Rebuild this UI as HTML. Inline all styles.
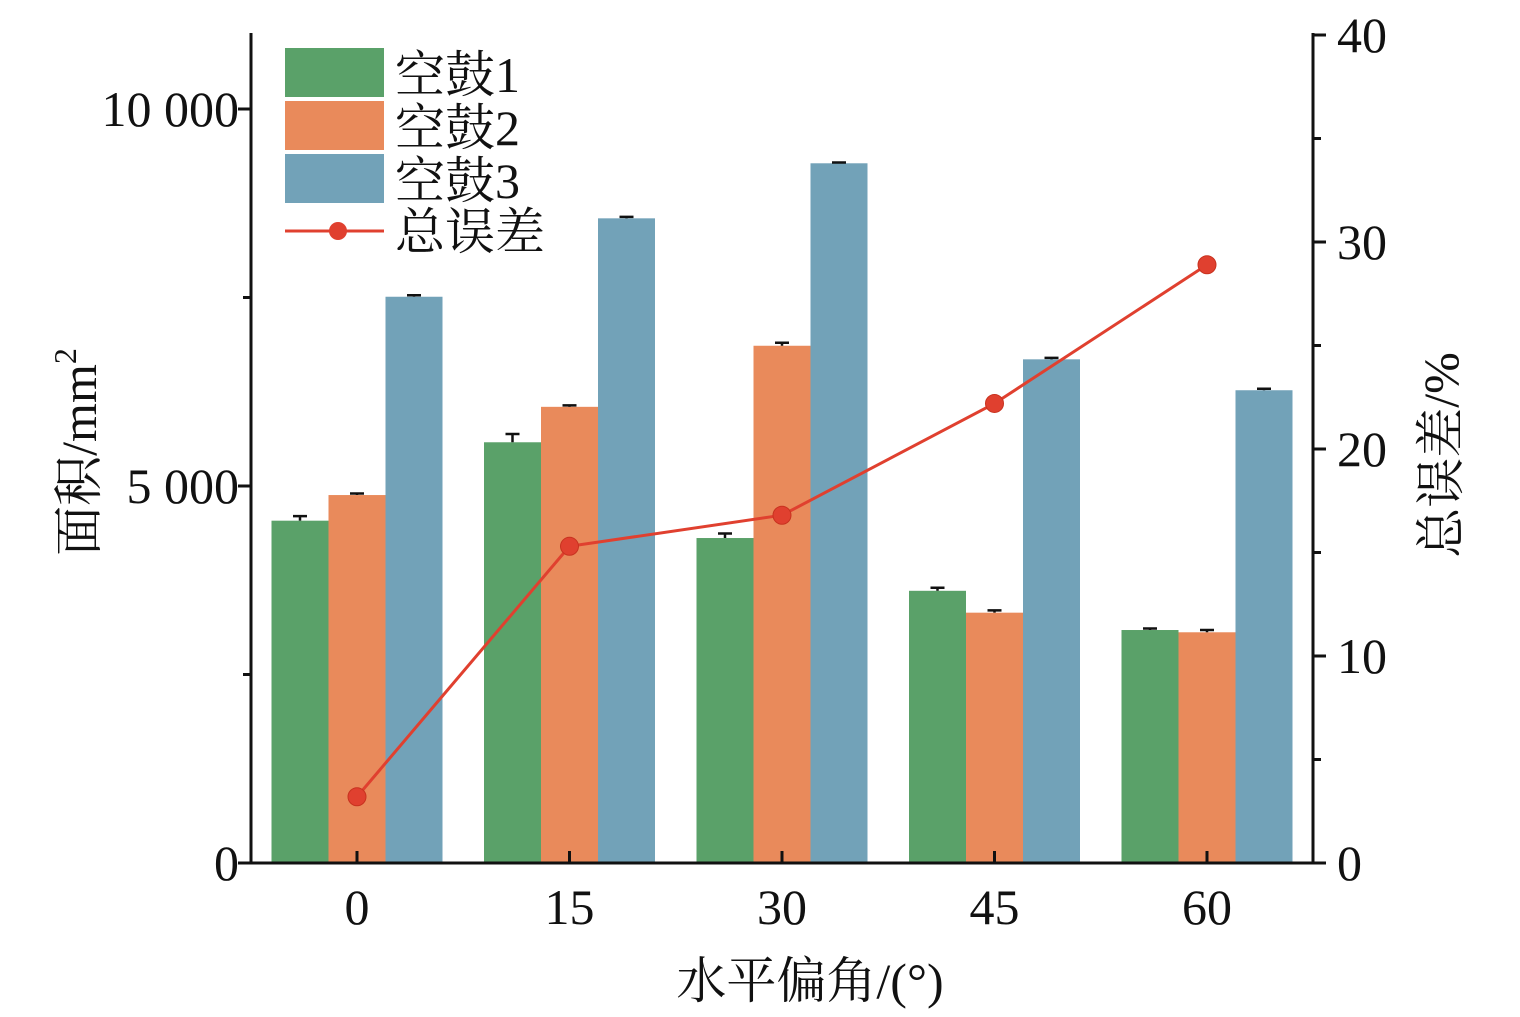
<!DOCTYPE html>
<html><head><meta charset="utf-8"><style>
html,body{margin:0;padding:0;background:#fff;}
svg text{font-family:"Liberation Serif","Noto Serif CJK SC","Noto Sans CJK SC",serif;fill:#111;}
</style></head><body>
<svg id="chart" width="1520" height="1012" viewBox="0 0 1520 1012" xmlns="http://www.w3.org/2000/svg"></svg>
<script>
const categories = ["0","15","30","45","60"];
const series1 = [4540, 5580, 4310, 3610, 3090];
const series2 = [4880, 6050, 6860, 3320, 3060];
const series3 = [7510, 8550, 9280, 6680, 6270];
const err1 = [60, 110, 60, 40, 20];
const err2 = [20, 20, 40, 30, 30];
const err3 = [20, 20, 10, 20, 20];
const totalError = [3.2, 15.3, 16.8, 22.2, 28.9];
const leftTicks = [0, 5000, 10000];
const leftTickLabels = ["0", "5 000", "10 000"];
const rightTicks = [0, 10, 20, 30, 40];
const seriesNames = ["空鼓1", "空鼓2", "空鼓3"];
const colors = ["#5aa169", "#e98a5b", "#72a2b8"];

const svg = document.getElementById('chart');
const NS = "http://www.w3.org/2000/svg";
const X0 = 251, X1 = 1313, Y0 = 863, YT = 33;
const yL = v => Y0 - v * 0.0754;
const yR = v => Y0 - v * 20.7;
const xC = i => 357 + i * 212.5;
const BW = 57;
function mk(tag, attrs, parent) {
  const e = document.createElementNS(NS, tag);
  for (const k in attrs) e.setAttribute(k, attrs[k]);
  (parent || svg).appendChild(e);
  return e;
}
function txt(s, attrs, parent) { const t = mk('text', attrs, parent); t.textContent = s; return t; }

const allSeries = [series1, series2, series3];
const allErr = [err1, err2, err3];
allSeries.forEach((ser, s) => {
  ser.forEach((v, i) => {
    const x = xC(i) + (s - 1) * BW - BW / 2;
    const r = mk('rect', {x: x, y: yL(v), width: BW, height: Y0 - yL(v), fill: colors[s]});
    
    
    const cx = x + BW / 2, et = yL(v + allErr[s][i]);
    const g = mk('path', {d: `M${cx} ${yL(v)}V${et}M${cx-7} ${et}H${cx+7}`, stroke: '#111', 'stroke-width': 2.5, fill: 'none'});
    
    
  });
});

const pts = totalError.map((v, i) => `${xC(i)},${yR(v)}`).join(' ');
const pl = mk('polyline', {points: pts, fill: 'none', stroke: '#e0402f', 'stroke-width': 3});


totalError.forEach((v, i) => {
  const c = mk('circle', {cx: xC(i), cy: yR(v), r: 9, fill: '#e0402f', stroke: '#c8321f', 'stroke-width': 1});
  
  
});

const ax = mk('path', {d: `M${X0} ${YT}V${Y0}H${X1}V${YT}`, stroke: '#111', 'stroke-width': 3, fill: 'none'});



leftTicks.forEach((v, i) => {
  mk('line', {x1: X0, x2: X0 - 13, y1: yL(v), y2: yL(v), stroke: '#111', 'stroke-width': 3});
  const t = txt(leftTickLabels[i], {x: X0 - 12, y: yL(v) + 17, 'font-size': 50, 'text-anchor': 'end'});
  
  
});
[2500, 7500].forEach(v => mk('line', {x1: X0, x2: X0 - 8, y1: yL(v), y2: yL(v), stroke: '#111', 'stroke-width': 3}));
rightTicks.forEach(v => {
  mk('line', {x1: X1, x2: X1 + 13, y1: yR(v), y2: yR(v), stroke: '#111', 'stroke-width': 3});
  const t = txt(String(v), {x: X1 + 24, y: yR(v) + 17, 'font-size': 50});
  
  
});
[5, 15, 25, 35].forEach(v => mk('line', {x1: X1, x2: X1 + 8, y1: yR(v), y2: yR(v), stroke: '#111', 'stroke-width': 3}));
categories.forEach((c, i) => {
  mk('line', {x1: xC(i), x2: xC(i), y1: Y0, y2: Y0 - 12, stroke: '#111', 'stroke-width': 3});
  const t = txt(c, {x: xC(i), y: 924, 'font-size': 50, 'text-anchor': 'middle'});
  
  
});

let t = txt('水平偏角/(°)', {x: 810, y: 998, 'font-size': 50, 'text-anchor': 'middle'});


t = mk('text', {x: 0, y: 0, 'font-size': 50, 'text-anchor': 'middle', transform: 'translate(96,452) rotate(-90)'});
t.innerHTML = '面积/mm<tspan dy="-20" font-size="32">2</tspan>';


t = txt('总误差/%', {x: 0, y: 0, 'font-size': 50, 'text-anchor': 'middle', transform: 'translate(1458,455) rotate(-90)'});



const legY = [48, 101, 154];
seriesNames.forEach((n, s) => {
  const r = mk('rect', {x: 285, y: legY[s], width: 99, height: 49, fill: colors[s]});
  
  
  const tt = txt(n, {x: 395, y: legY[s] + 44, 'font-size': 50});
  
  
});
mk('line', {x1: 285, x2: 384, y1: 231, y2: 231, stroke: '#e0402f', 'stroke-width': 3});
mk('circle', {cx: 338, cy: 231, r: 9, fill: '#e0402f'});
t = txt('总误差', {x: 395, y: 249, 'font-size': 50});


</script>
</body></html>
